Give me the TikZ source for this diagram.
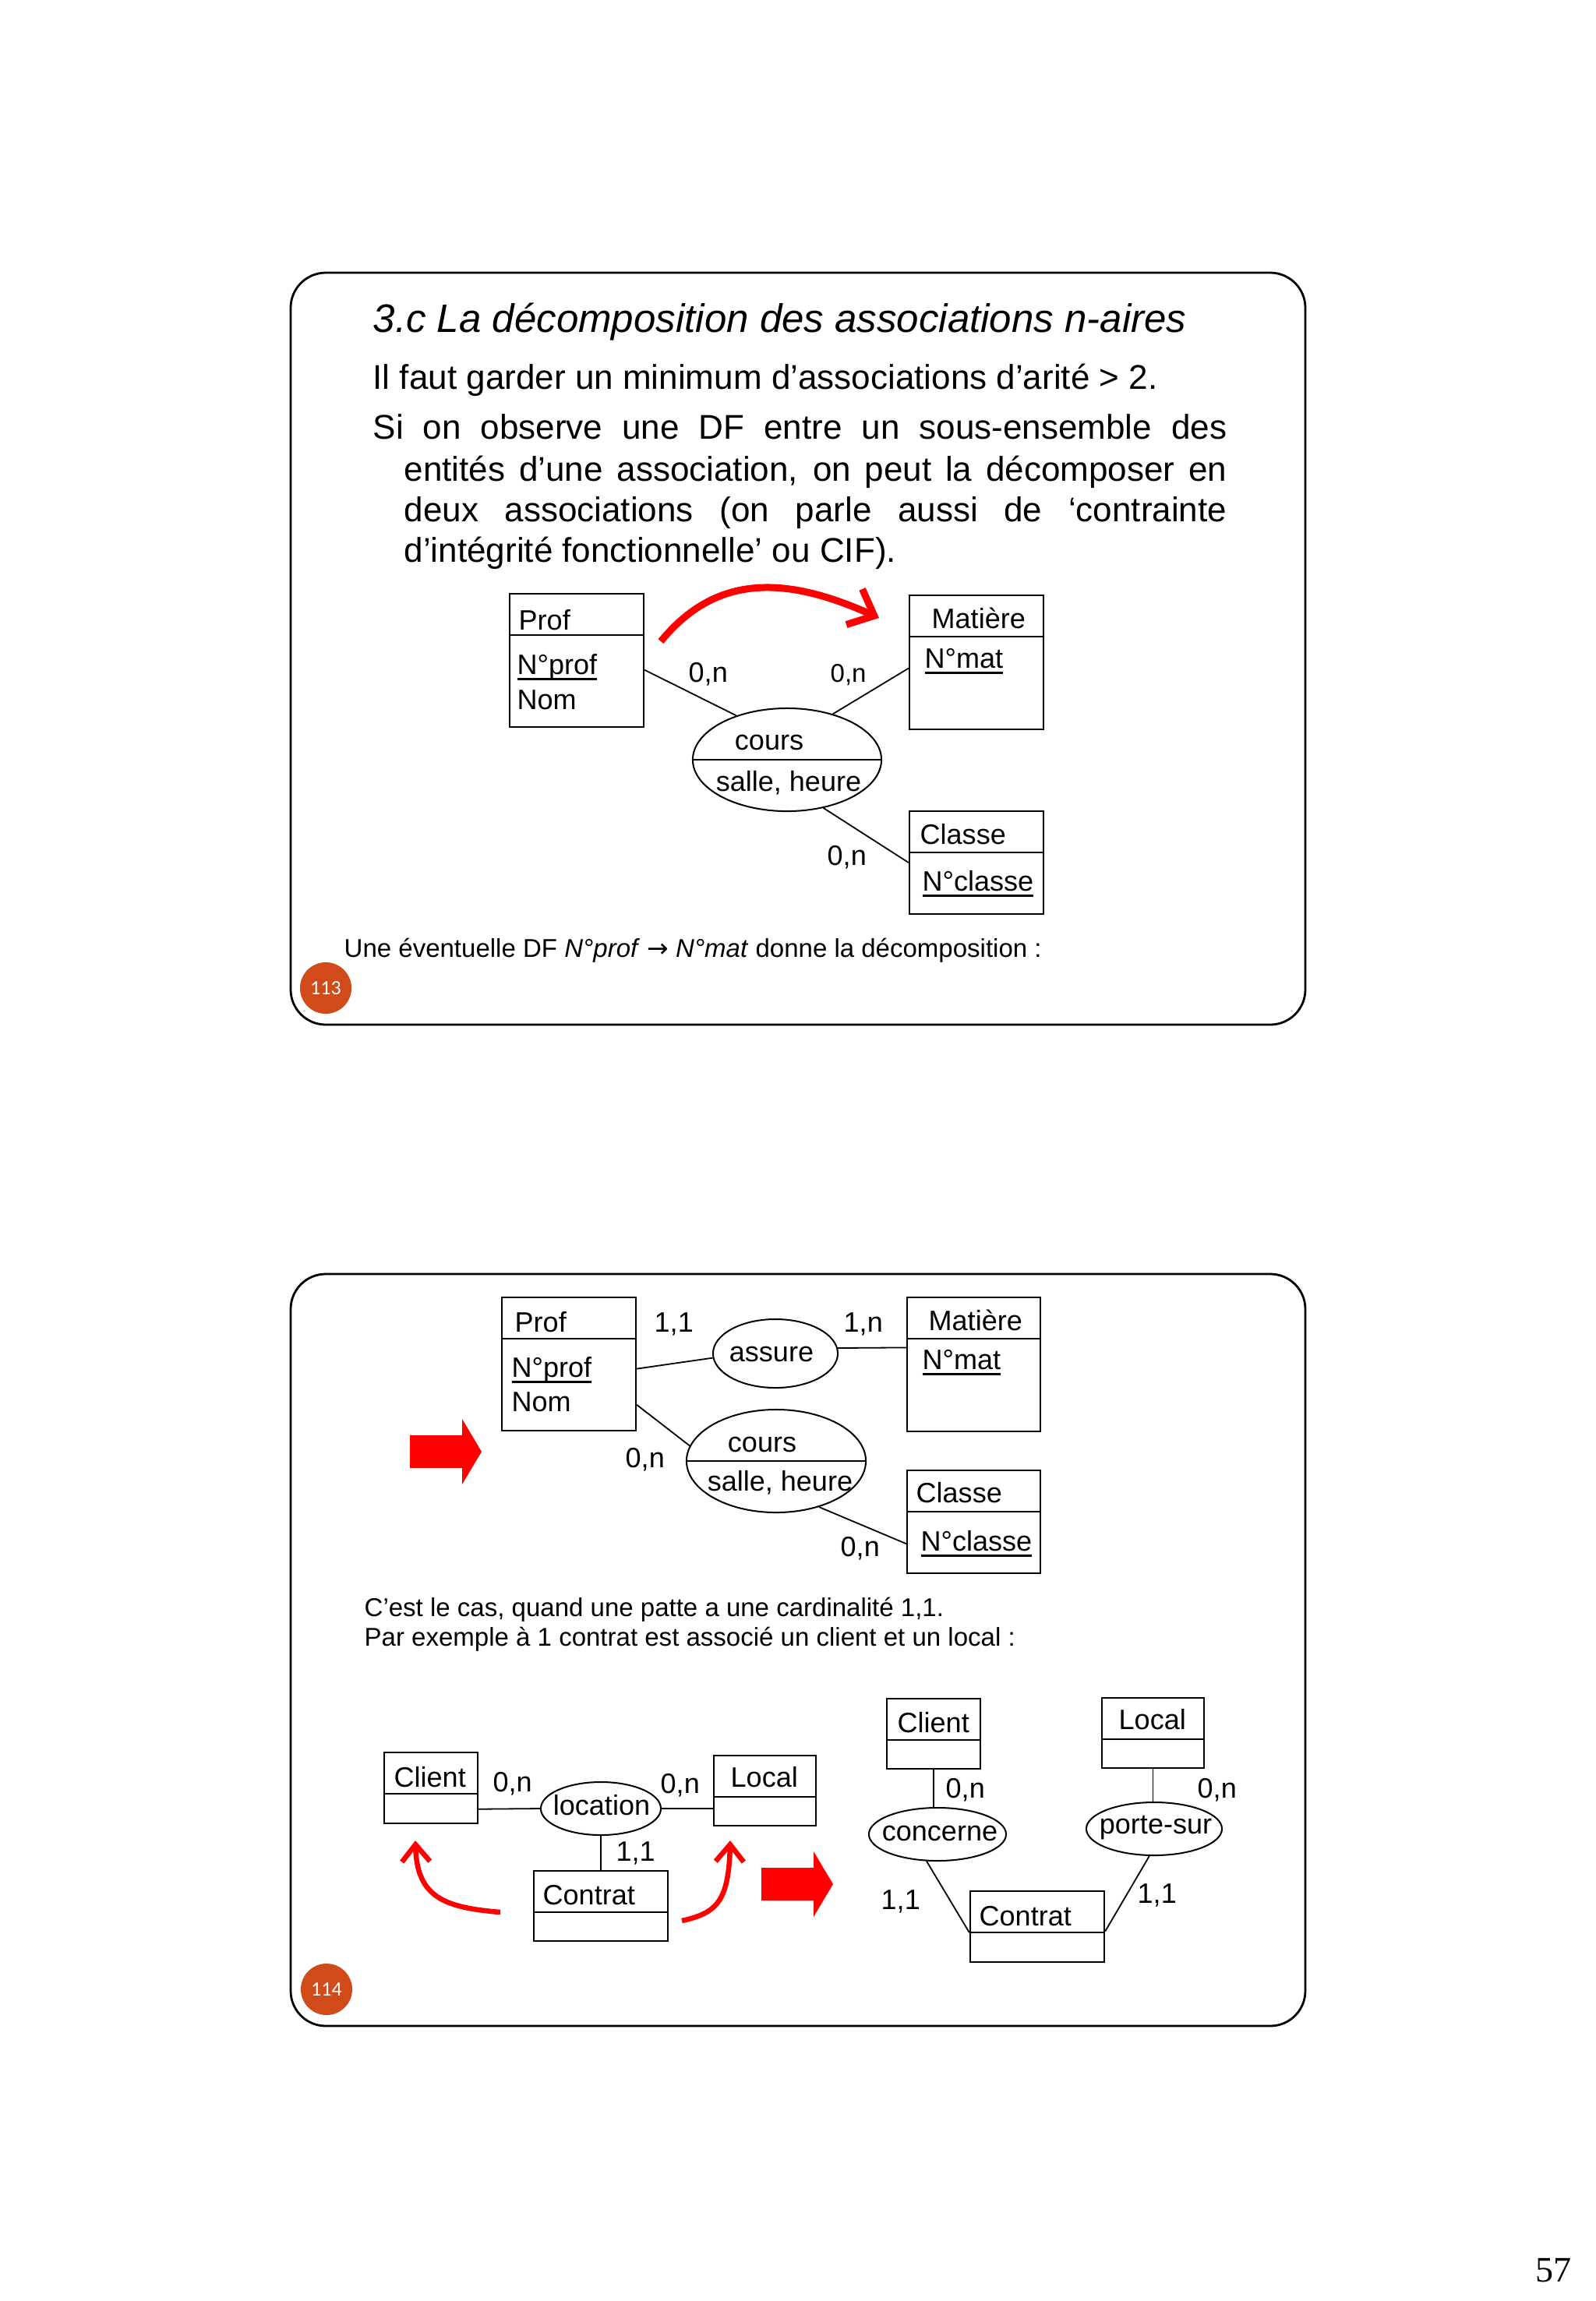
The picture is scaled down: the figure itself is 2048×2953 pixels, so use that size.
\documentclass[tikz,border=0pt]{standalone}
\usepackage{fontspec}
\setmainfont{Liberation Sans}
\newfontfamily\pagefont{Liberation Serif}
\newfontfamily\numfont{Carlito}
\newfontfamily\symfont{DejaVu Sans}
\usetikzlibrary{arrows.meta,shapes.geometric}
\definecolor{slidenum}{RGB}{209,74,26}
\newcommand{\souligne}[1]{\setbox0\hbox{#1}\rlap{\rule[-0.08cm]{\wd0}{0.03cm}}\box0}
\newcommand{\fs}[2]{\fontsize{#1cm}{#2cm}\selectfont}

\begin{document}
\begin{tikzpicture}[x=0.01cm,y=-0.01cm]
  \tikzstyle{slide}=[rounded corners=0.45cm,line width=0.028cm]
  \tikzstyle{entity}=[draw,line width=0.022cm,inner sep=0,
    path picture={\draw[line width=0.022cm] ([yshift=-0.53cm]path picture bounding box.north west) -- ([yshift=-0.53cm]path picture bounding box.north east);}]
  \tikzstyle{assoc}=[draw,ellipse,line width=0.02cm,inner sep=0]
  \tikzstyle{assocattr}=[assoc,path picture={\draw[line width=0.022cm] (path picture bounding box.west) -- (path picture bounding box.east);}]
  \tikzstyle{lab}=[anchor=base west,inner sep=0,font=\fs{0.36}{0.43}]
  \tikzstyle{labc}=[lab,anchor=base]
  \tikzstyle{txt}=[anchor=base west,inner sep=0,font=\fs{0.44}{0.53}]
  \tikzstyle{small}=[anchor=base west,inner sep=0,font=\fs{0.33}{0.40}]
  \tikzstyle{link}=[draw,line width=0.018cm]
  \tikzstyle{dfarrow}=[draw=red,line width=0.09cm,-{Straight Barb[length=0.28cm,width=0.5cm]}]
  \tikzstyle{redcurve}=[draw=red,line width=0.065cm,-{Straight Barb[length=0.22cm,width=0.36cm]}]
  \tikzstyle{num}=[circle,fill=slidenum,inner sep=0,minimum size=0.66cm,text=white,font=\numfont\fs{0.26}{0.3}]
  \useasboundingbox (0,0) rectangle (2048,2953);

  % slide 113
  \draw[slide] (373,350) rectangle (1675,1315);
  \node[txt,font=\fs{0.51}{0.6}\itshape] (title) at (478,426) {3.c La décomposition des associations n-aires};
  \node[txt] (regle) at (478,499) {Il faut garder un minimum d’associations d’arité > 2.};
  \node[txt] (si1) at (478,563) {\makebox[10.95cm][s]{Si on observe une DF entre un sous-ensemble des}};
  \node[txt] (si2) at (518,617) {\makebox[10.55cm][s]{entités d’une association, on peut la décomposer en}};
  \node[txt] (si3) at (518,669) {\makebox[10.55cm][s]{deux associations (on parle aussi de ‘contrainte}};
  \node[txt] (si4) at (518,721) {d’intégrité fonctionnelle’ ou CIF).};

  \node[entity,minimum width=1.72cm,minimum height=1.71cm] (prof) at (740,847.5) {};
  \node[entity,minimum width=1.72cm,minimum height=1.72cm] (matiere) at (1253,850) {};
  \node[entity,minimum width=1.72cm,minimum height=1.32cm] (classe) at (1253,1107) {};
  \node[assocattr,minimum width=2.42cm,minimum height=1.32cm] (cours) at (1010,975) {};
  \node[lab] (profT) at (665,808) {Prof};
  \node[lab] (profK) at (663,865) {\souligne{N°prof}};
  \node[lab] (profN) at (663,910) {Nom};
  \node[lab] (matT) at (1195,806) {Matière};
  \node[lab] (matK) at (1186,857) {\souligne{N°mat}};
  \node[lab] (clT) at (1180,1083) {Classe};
  \node[lab] (clK) at (1183,1143) {\souligne{N°classe}};
  \node[labc] (coursT) at (987,962) {cours};
  \node[labc] (coursA) at (1012,1015) {salle, heure};
  \path[link] (prof.-8) edge (cours.139);
  \path[link] (matiere.185) edge (cours.45);
  \path[link] (cours.-53) edge (classe.west);
  \node[lab] (c1) at (883,875) {0,n};
  \node[lab,font=\fs{0.33}{0.4}] (c2) at (1065,875) {0,n};
  \node[lab] (c3) at (1061,1110) {0,n};

  \coordinate (dfa) at (848,823);
  \coordinate (dfb) at (1128,793);
  \draw[dfarrow] (dfa) .. controls (920,735) and (1010,740) .. (dfb);

  \node[small] (df) at (441,1228) {Une éventuelle DF \textit{N°prof} {\symfont →} \textit{N°mat} donne la décomposition :};
  \node[num] (n113) at (418,1268) {113};

  % slide 114
  \draw[slide] (373,1635) rectangle (1675,2600);
  \node[entity,minimum width=1.72cm,minimum height=1.71cm] (prof2) at (730,1750.5) {};
  \node[entity,minimum width=1.71cm,minimum height=1.72cm] (matiere2) at (1249.5,1751) {};
  \node[entity,minimum width=1.71cm,minimum height=1.32cm] (classe2) at (1249.5,1953) {};
  \node[assoc,minimum width=1.60cm,minimum height=0.88cm] (assure) at (995,1737) {};
  \node[assocattr,minimum width=2.30cm,minimum height=1.32cm] (cours2) at (996,1875) {};
  \node[lab] (prof2T) at (660,1709) {Prof};
  \node[lab] (prof2K) at (656,1767) {\souligne{N°prof}};
  \node[lab] (prof2N) at (656,1811) {Nom};
  \node[lab] (mat2T) at (1191,1707) {Matière};
  \node[lab] (mat2K) at (1183,1757) {\souligne{N°mat}};
  \node[lab] (cl2T) at (1175,1928) {Classe};
  \node[lab] (cl2K) at (1181,1990) {\souligne{N°classe}};
  \node[labc] (assureT) at (990,1747) {assure};
  \node[labc] (cours2T) at (978,1863) {cours};
  \node[labc] (cours2A) at (1001,1913) {salle, heure};
  \path[link] (prof2.-4) edge (assure.184);
  \path[link] (assure.5) edge (matiere2.166);
  \path[link] (prof2.-31) edge (cours2.170);
  \path[link] (cours2.-47) edge (classe2.-162);
  \node[lab] (c4) at (839,1709) {1,1};
  \node[lab] (c5) at (1082,1709) {1,n};
  \node[lab] (c6) at (802,1883) {0,n};
  \node[lab] (c7) at (1078,1997) {0,n};

  \foreach \ax/\ay in {526/1863,977/2418}
    \fill[red] (\ax,\ay-21) -- (\ax+67,\ay-21) -- (\ax+67,\ay-42) -- (\ax+92,\ay)
      -- (\ax+67,\ay+42) -- (\ax+67,\ay+21) -- (\ax,\ay+21) -- cycle;

  \node[small] (cas) at (467,2074) {C’est le cas, quand une patte a une cardinalité 1,1.};
  \node[small] (ex) at (467,2112) {Par exemple à 1 contrat est associé un client et un local :};

  % ternary version
  \node[entity,minimum width=1.20cm,minimum height=0.91cm] (client) at (553,2294.5) {};
  \node[entity,minimum width=1.31cm,minimum height=0.90cm] (local) at (981.5,2298) {};
  \node[entity,minimum width=1.72cm,minimum height=0.90cm] (contrat) at (771,2446) {};
  \node[assoc,minimum width=1.54cm,minimum height=0.68cm] (location) at (771,2321) {};
  \node[lab] (clientT) at (505,2293) {Client};
  \node[lab] (localT) at (937,2293) {Local};
  \node[lab] (contratT) at (696,2444) {Contrat};
  \node[labc] (locationT) at (772,2329) {location};
  \path[link] (client.-24) edge (location.west);
  \path[link] (location.east) edge (local.-161);
  \path[link] (location) edge (contrat);
  \node[lab] (c8) at (632,2299) {0,n};
  \node[lab] (c9) at (847,2301) {0,n};
  \node[lab] (c10) at (790,2388) {1,1};

  \coordinate (ga) at (642,2454);
  \coordinate (gb) at (533,2362);
  \draw[redcurve] (ga) .. controls (570,2448) and (535,2435) .. (gb);
  \coordinate (da) at (875,2465);
  \coordinate (db) at (937,2362);
  \draw[redcurve] (da) .. controls (920,2455) and (935,2440) .. (db);

  % binary version
  \node[entity,minimum width=1.20cm,minimum height=0.90cm] (client2) at (1198,2225) {};
  \node[entity,minimum width=1.31cm,minimum height=0.90cm] (local2) at (1479.5,2224) {};
  \node[entity,minimum width=1.72cm,minimum height=0.91cm] (contrat2) at (1331,2472.5) {};
  \node[assoc,minimum width=1.76cm,minimum height=0.68cm] (concerne) at (1203,2354) {};
  \node[assoc,minimum width=1.74cm,minimum height=0.68cm] (portesur) at (1481,2347) {};
  \node[lab] (client2T) at (1151,2223) {Client};
  \node[lab] (local2T) at (1435,2219) {Local};
  \node[lab] (contrat2T) at (1256,2471) {Contrat};
  \node[labc] (concerneT) at (1206,2362) {concerne};
  \node[labc] (portesurT) at (1483,2353) {porte-sur};
  \path[link] (client2.south) edge (client2.south |- concerne.north);
  \path[link] (concerne.-112) edge (contrat2.185);
  \path[link] (local2.south) edge (local2.south |- portesur.north);
  \path[link] (portesur.-100) edge (contrat2.-4);
  \node[lab] (c11) at (1213,2307) {0,n};
  \node[lab] (c12) at (1130,2450) {1,1};
  \node[lab] (c13) at (1536,2307) {0,n};
  \node[lab] (c14) at (1459,2442) {1,1};

  \node[num] (n114) at (419,2553) {114};
  \node[anchor=base east,inner sep=0,font=\pagefont\fs{0.46}{0.5}] (page) at (2017,2928) {57};
\end{tikzpicture}
\end{document}
